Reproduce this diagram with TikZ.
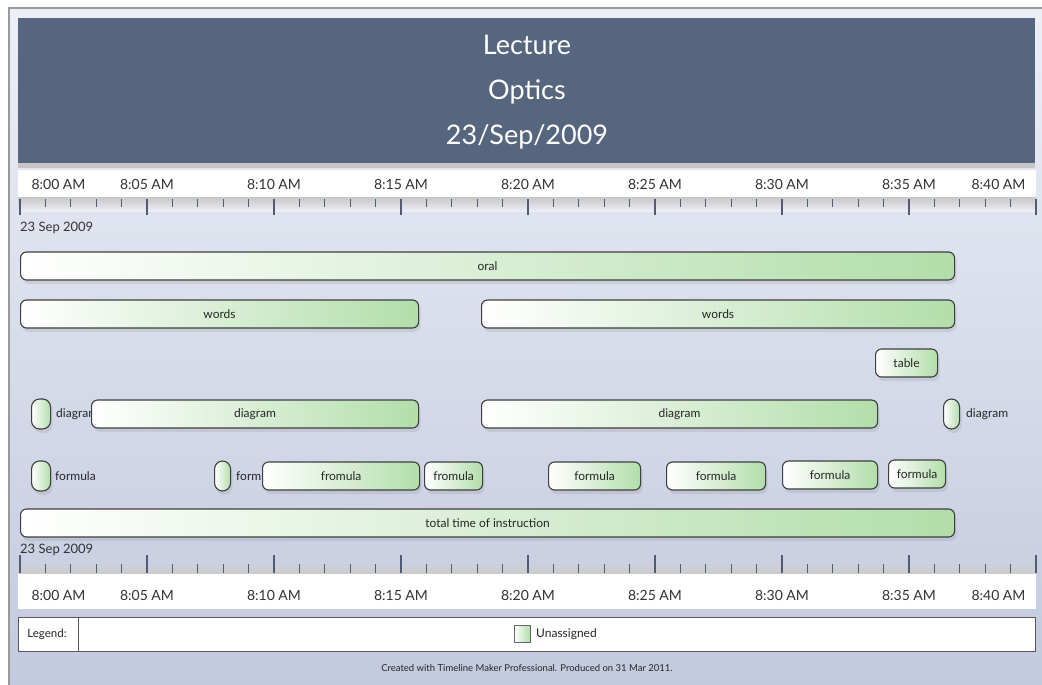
\documentclass[tikz,border=0pt]{standalone}
\usepackage{fontspec}
\setmainfont{Lato}
\usetikzlibrary{shadows}

\definecolor{headblue}{RGB}{86,102,127}
\definecolor{bgtop}{RGB}{236,239,246}
\definecolor{bgbot}{RGB}{194,201,222}
\definecolor{bargreen}{RGB}{178,222,170}
\definecolor{barline}{RGB}{62,62,62}
\definecolor{tickcol}{RGB}{80,92,115}

\tikzset{
  tlbar/.style={draw=barline, line width=1.1pt, rounded corners=6pt,
    left color=white, right color=bargreen, minimum height=28pt,
    inner sep=0pt, text=black!85, font=\fontsize{12}{14}\selectfont,
    drop shadow={opacity=0.18, shadow xshift=2pt, shadow yshift=-4pt}},
  tlpill/.style={tlbar, rounded corners=8pt, minimum height=30pt},
  tllabel/.style={anchor=west, inner sep=0pt, text=black!85,
    font=\fontsize{12}{14}\selectfont},
  titletext/.style={text=white, font=\fontsize{27}{30}\selectfont},
  axislabel/.style={text=black!80, font=\fontsize{14}{16}\selectfont},
  datelabel/.style={anchor=west, inner sep=0pt, text=black!80,
    font=\fontsize{13}{15}\selectfont},
}

% name, left x, right x, y, text
\newcommand\tlbar[5]{\node[tlbar, anchor=west, minimum width={#3-#2}] (#1) at (#2,#4) {#5};}
\newcommand\tlpill[4]{\node[tlpill, anchor=west, minimum width={#3-#2}] (#1) at (#2,#4) {};}

\begin{document}
\begin{tikzpicture}[x=1pt,y=-1pt]
  \useasboundingbox (0,0) rectangle (1042,685);
  \fill[white] (0,0) rectangle (1042,685);
  \draw[gray!80, line width=1.4pt, top color=bgtop, bottom color=bgbot] (9,8) rectangle (1060,700);

  % header
  \fill[headblue] (18,18) rectangle (1035,166);
  \fill[gray!45] (18,163) rectangle (1035,168);
  \node[titletext] (lecture) at (527,45) {Lecture};
  \node[titletext] (optics) at (527,92) {Optics};
  \node[titletext] (day) at (527,137) {23/Sep/2009};

  % top time axis
  \fill[white] (18,170) rectangle (1036,197);
  \shade[top color=gray!45, bottom color=bgtop] (18,197) rectangle (1036,211);
  \foreach \m in {0,...,40} {
    \pgfmathsetmacro\xm{20+25.4*\m}
    \pgfmathsetmacro\tl{ifthenelse(mod(\m,5)==0,215,207)}
    \draw[tickcol, line width=1.2pt] (\xm,199) -- (\xm,\tl);
  }
  \node[axislabel, anchor=west] (top-0) at (28,184) {8:00 AM};
  \foreach \m/\t in {5/8:05,10/8:10,15/8:15,20/8:20,25/8:25,30/8:30,35/8:35}
    \node[axislabel] (top-\m) at ({20+25.4*\m},184) {\t\ AM};
  \node[axislabel, anchor=east] (top-40) at (1029,184) {8:40 AM};
  \node[datelabel] (topdate) at (20,228) {23 Sep 2009};

  % bars
  \tlbar{oral}{20}{954}{266}{oral}
  \tlbar{wordsA}{20}{418}{314}{words}
  \tlbar{wordsB}{481}{954}{314}{words}
  \tlbar{table}{875}{937}{363}{table}

  \tlpill{dgpillA}{31}{50}{414}
  \node[tllabel] (dglabelA) at (56,414) {diagram};
  \tlbar{diagramA}{91}{418}{414}{diagram}
  \tlbar{diagramB}{481}{877}{414}{diagram}
  \tlpill{dgpillB}{943}{959}{414}
  \node[tllabel] (dglabelB) at (966,414) {diagram};

  \tlpill{fmpillA}{31}{50}{476}
  \node[tllabel] (fmlabelA) at (55,476) {formula};
  \tlpill{fmpillB}{214}{230}{476}
  \node[tllabel] (fmlabelB) at (236,476) {formula};
  \tlbar{fromulaA}{262}{419}{476}{fromula}
  \tlbar{fromulaB}{424}{482}{476}{fromula}
  \tlbar{formulaA}{548}{640}{476}{formula}
  \tlbar{formulaB}{666}{765}{476}{formula}
  \tlbar{formulaC}{782}{877}{475}{formula}
  \tlbar{formulaD}{888}{945}{474}{formula}

  \tlbar{total}{20}{954}{523}{total time of instruction}

  % bottom time axis
  \node[datelabel] (botdate) at (20,550) {23 Sep 2009};
  \shade[top color=bgbot!85!white, bottom color=gray!40] (18,560) rectangle (1036,574);
  \foreach \m in {0,...,40} {
    \pgfmathsetmacro\xm{20+25.4*\m}
    \pgfmathsetmacro\tl{ifthenelse(mod(\m,5)==0,555,564)}
    \draw[tickcol, line width=1.2pt] (\xm,573) -- (\xm,\tl);
  }
  \fill[white] (18,574) rectangle (1036,609);
  \node[axislabel, anchor=west] (bot-0) at (28,595) {8:00 AM};
  \foreach \m/\t in {5/8:05,10/8:10,15/8:15,20/8:20,25/8:25,30/8:30,35/8:35}
    \node[axislabel] (bot-\m) at ({20+25.4*\m},595) {\t\ AM};
  \node[axislabel, anchor=east] (bot-40) at (1029,595) {8:40 AM};

  % legend
  \draw[fill=white, draw=gray!70!black, line width=0.8pt] (18,617) rectangle (1035,651);
  \draw[gray!70!black, line width=0.8pt] (78,617) -- (78,651);
  \node[text=black!85, font=\fontsize{11.5}{13}\selectfont] (legend) at (47,634) {Legend:};
  \draw[draw=gray!80!black, line width=0.8pt, left color=white, right color=bargreen] (514,625) rectangle (530,642);
  \node[tllabel] (unassigned) at (536,634) {Unassigned};

  \node[text=black!85, font=\fontsize{9.5}{11}\selectfont] (footer) at (527,668)
    {Created with Timeline Maker Professional. Produced on 31 Mar 2011.};
\end{tikzpicture}
\end{document}
